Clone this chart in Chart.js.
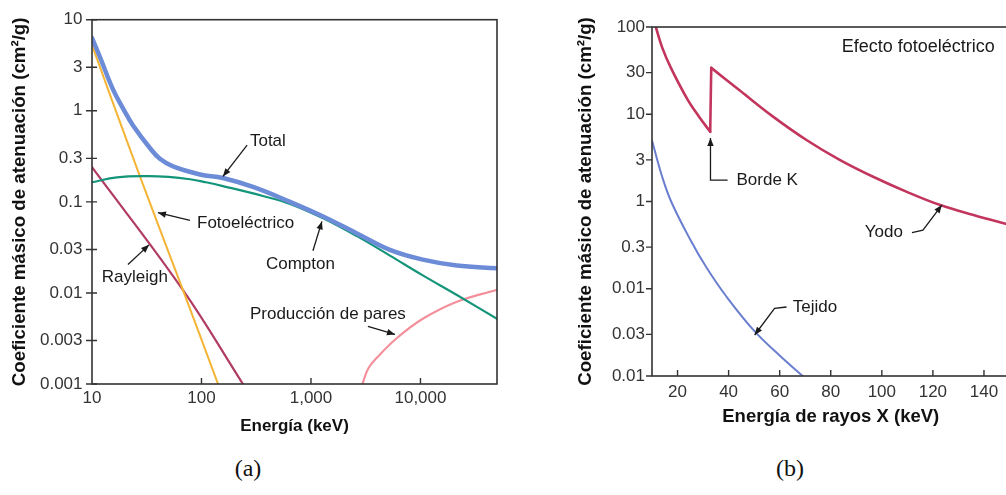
<!DOCTYPE html>
<html><head><meta charset="utf-8">
<script src="https://cdn.jsdelivr.net/npm/chart.js@4/dist/chart.umd.min.js"></script>
<style>
html,body{margin:0;padding:0;background:#fff;width:1006px;height:495px;overflow:hidden;position:relative;}
canvas{position:absolute;top:0;}
#ca{left:0;}
#cb{left:560px;}
.cap{position:absolute;top:468px;font-family:"Liberation Serif",serif;font-size:24px;color:#111;transform:translate(-50%,-50%);white-space:nowrap;}
</style></head><body>
<canvas id="ca" width="520" height="445"></canvas>
<canvas id="cb" width="460" height="445"></canvas>
<div class="cap" style="left:248px">(a)</div>
<div class="cap" style="left:790px">(b)</div>
<script>
// ---------- Panel (a) data ----------
const energyTotal = [10, 11.8, 15.5, 19.3, 23.7, 33.8, 41.7, 55, 96.7, 157, 300, 643, 1290, 2630, 5260, 10500, 21500, 50000];
const muTotal     = [6.3, 3.9, 1.73, 1.05, 0.69, 0.39, 0.297, 0.245, 0.2, 0.183, 0.145, 0.1, 0.069, 0.045, 0.0297, 0.0232, 0.02, 0.0186];
const energyCompton = [10, 16.9, 31.8, 50, 78.5, 110, 157, 364, 643, 1290, 2630, 5260, 10500, 21500, 50000];
const muCompton     = [0.164, 0.186, 0.192, 0.188, 0.177, 0.164, 0.149, 0.116, 0.095, 0.066, 0.042, 0.0257, 0.0156, 0.0095, 0.0052];
const energyPhoto = [10, 27.4, 67.6, 141.6];
const muPhoto     = [5.25, 0.19, 0.0108, 0.001];
const energyRayleigh = [10, 67.6, 239];
const muRayleigh     = [0.24, 0.0108, 0.001];
const energyPairs = [2950, 3335, 4010, 6100, 10500, 21500, 50000];
const muPairs     = [0.001, 0.00148, 0.00195, 0.0032, 0.0052, 0.008, 0.0108];
const xTickValsA   = [10, 100, 1000, 10000];
const xTickLabelsA = ["10", "100", "1,000", "10,000"];
const yTickValsA   = [10, 3, 1, 0.3, 0.1, 0.03, 0.01, 0.003, 0.001];
const yTickLabelsA = ["10", "3", "1", "0.3", "0.1", "0.03", "0.01", "0.003", "0.001"];

// ---------- Panel (b) data ----------
const yodoLowE  = [11.5, 14, 17.5, 24, 28.5, 32.8];
const yodoLowV  = [100, 58, 33.5, 14.6, 9.3, 6.3];
const yodoHighE = [33.2, 44.4, 57.4, 70.5, 83.5, 96.6, 109.8, 122.9, 135.9, 150];
const yodoHighV = [34, 18.7, 9.4, 5.07, 3.0, 1.92, 1.29, 0.91, 0.70, 0.54];
const tejidoE = [10, 13.8, 17.5, 24.9, 31.4, 39.2, 50.4, 60.2, 69];
const tejidoV = [5, 2.0, 1.0, 0.37, 0.174, 0.081, 0.032, 0.017, 0.01];
const xTickValsB   = [20, 40, 60, 80, 100, 120, 140];
const xTickLabelsB = ["20", "40", "60", "80", "100", "120", "140"];
const yTickValsB   = [100, 30, 10, 3, 1, 0.3, 0.1, 0.03, 0.01];
const yTickLabelsB = ["100", "30", "10", "3", "1", "0.3", "0.01", "0.03", "0.01"];

// ---------- Annotations (data coordinates) ----------
const annotA = [
  {text: "Total", at: [277, 0.465], path: [[261, 0.42], [157, 0.19]]},
  {text: "Fotoeléctrico", at: [91, 0.058], path: [[78.5, 0.0625], [40, 0.076]]},
  {text: "Rayleigh", at: [12.3, 0.0149], path: [[21.3, 0.0205], [33.2, 0.0337]]},
  {text: "Compton", at: [388, 0.0205], path: [[1042, 0.029], [1259, 0.061]]},
  {text: "Producción de pares", at: [277, 0.0058], path: [[3310, 0.0043], [5850, 0.0035]]}
];
const annotB = [
  {text: "Efecto fotoeléctrico", at: [84.3, 59], path: null, size: 18},
  {text: "Borde K", at: [43.1, 1.76], path: [[39.6, 1.76], [32.9, 1.76], [32.9, 5.35]]},
  {text: "Yodo", at: [93.3, 0.447], path: [[111.8, 0.44], [116.1, 0.47], [123.5, 0.91]]},
  {text: "Tejido", at: [65.1, 0.0618], path: [[62.7, 0.0618], [58, 0.0595], [50.2, 0.0295]]}
];

const FONT = "'Liberation Sans', Arial, sans-serif";

function pts(xs, ys){ return xs.map((x,i)=>({x:x, y:ys[i]})); }
function ds(data, color, width, smooth){
  return {data, borderColor: color, borderWidth: width, pointRadius: 0, fill: false,
          tension: smooth ? 0.4 : 0, cubicInterpolationMode: 'default', borderJoinStyle: 'round', borderCapStyle: 'round'};
}

const framePlugin = {
  id: 'frame',
  afterDraw(chart, args, o){
    const {ctx, chartArea: a, scales} = chart;
    ctx.save();
    ctx.strokeStyle = '#333'; ctx.lineWidth = 1.6;
    ctx.strokeRect(a.left, a.top, a.right - a.left, a.bottom - a.top);
    ctx.lineWidth = 1.4;
    ctx.beginPath();
    o.yTicks.forEach(v => { const y = scales.y.getPixelForValue(v); ctx.moveTo(a.left - o.yOut, y); ctx.lineTo(a.left + o.yIn, y); });
    o.xTicks.forEach(v => { const x = scales.x.getPixelForValue(v); ctx.moveTo(x, a.bottom); ctx.lineTo(x, a.bottom - o.xIn); });
    ctx.stroke();
    ctx.restore();
  }
};

const annotPlugin = {
  id: 'annot',
  afterDatasetsDraw(chart, args, o){
    const {ctx, scales} = chart;
    const P = p => [scales.x.getPixelForValue(p[0]), scales.y.getPixelForValue(p[1])];
    ctx.save();
    o.items.forEach(it => {
      const t = P(it.at);
      ctx.fillStyle = '#1a1a1a';
      ctx.font = (it.size || 17) + 'px ' + FONT;
      ctx.textAlign = 'left'; ctx.textBaseline = 'middle';
      ctx.fillText(it.text, t[0], t[1]);
      if (it.path){
        const q = it.path.map(P);
        ctx.strokeStyle = '#1a1a1a'; ctx.lineWidth = 1.3;
        ctx.beginPath(); ctx.moveTo(q[0][0], q[0][1]);
        for (let i = 1; i < q.length; i++) ctx.lineTo(q[i][0], q[i][1]);
        ctx.stroke();
        const e = q[q.length-1], s = q[q.length-2];
        const ang = Math.atan2(e[1]-s[1], e[0]-s[0]);
        const L = 8, W = 3.2;
        ctx.beginPath();
        ctx.moveTo(e[0], e[1]);
        ctx.lineTo(e[0] - L*Math.cos(ang) + W*Math.sin(ang), e[1] - L*Math.sin(ang) - W*Math.cos(ang));
        ctx.lineTo(e[0] - L*Math.cos(ang) - W*Math.sin(ang), e[1] - L*Math.sin(ang) + W*Math.cos(ang));
        ctx.closePath(); ctx.fill();
      }
    });
    ctx.restore();
  }
};

function axis(type, min, max, vals, labels, fit, title, tpad, lpad, tsize){
  return {
    type, min, max,
    afterBuildTicks: s => { s.ticks = vals.map(v => ({value: v})); },
    afterFit: fit,
    ticks: {autoSkip: false, maxRotation: 0, padding: lpad, color: '#333',
            font: {family: FONT, size: 17}, callback: (v, i) => labels[i]},
    grid: {display: false, drawTicks: false, tickLength: 0},
    border: {display: false},
    title: {display: true, text: title, color: '#111', padding: tpad,
            font: {family: FONT, size: tsize, weight: 'bold'}}
  };
}

new Chart(document.getElementById('ca'), {
  type: 'line',
  data: {datasets: [
    ds(pts(energyTotal, muTotal), '#6d8cd8', 4.5, true),
    ds(pts(energyCompton, muCompton), '#14957a', 2.2, true),
    ds(pts(energyPhoto, muPhoto), '#f4b434', 2, true),
    ds(pts(energyRayleigh, muRayleigh), '#b03c64', 2.2, true),
    ds(pts(energyPairs, muPairs), '#f4909c', 2.2, true)
  ]},
  options: {
    responsive: false, animation: false, parsing: true,
    layout: {padding: {left: 0, top: 12, right: 23, bottom: 0}},
    plugins: {legend: {display: false}, tooltip: {enabled: false},
      frame: {xTicks: xTickValsA.slice(1), yTicks: yTickValsA, yOut: 6, yIn: 5, xIn: 6},
      annot: {items: annotA}},
    scales: {
      x: axis('logarithmic', 10, 50000, xTickValsA, xTickLabelsA, s => { s.height = 61; },
              'Energía (keV)', {top: 0, bottom: 8}, 4, 17),
      y: axis('logarithmic', 0.001, 10, yTickValsA, yTickLabelsA, s => { s.width = 92; },
              'Coeficiente másico de atenuación (cm²/g)', {top: 9, bottom: 0}, 9.5, 18.7)
    }
  },
  plugins: [framePlugin, annotPlugin]
});

const yodoEdge = [{x: yodoLowE[yodoLowE.length-1], y: yodoLowV[yodoLowV.length-1]}, {x: yodoHighE[0], y: yodoHighV[0]}];
new Chart(document.getElementById('cb'), {
  type: 'line',
  data: {datasets: [
    ds(pts(yodoLowE, yodoLowV), '#c2355d', 2.6, true),
    ds(yodoEdge, '#c2355d', 2.6, false),
    ds(pts(yodoHighE, yodoHighV), '#c2355d', 2.6, true),
    ds(pts(tejidoE, tejidoV), '#6a7fd0', 2, true)
  ]},
  options: {
    responsive: false, animation: false,
    layout: {padding: {left: 0, top: 27, right: 10.5, bottom: 0}},
    plugins: {legend: {display: false}, tooltip: {enabled: false},
      frame: {xTicks: xTickValsB, yTicks: yTickValsB, yOut: 6, yIn: 0, xIn: 6},
      annot: {items: annotB}},
    scales: {
      x: axis('linear', 10, 150, xTickValsB, xTickLabelsB, s => { s.height = 69; },
              'Energía de rayos X (keV)', {top: 0, bottom: 17}, 6, 18.5),
      y: axis('logarithmic', 0.01, 100, yTickValsB, yTickLabelsB, s => { s.width = 92; },
              'Coeficiente másico de atenuación (cm²/g)', {top: 15, bottom: 0}, 7, 18.7)
    }
  },
  plugins: [framePlugin, annotPlugin]
});
</script>
</body></html>
